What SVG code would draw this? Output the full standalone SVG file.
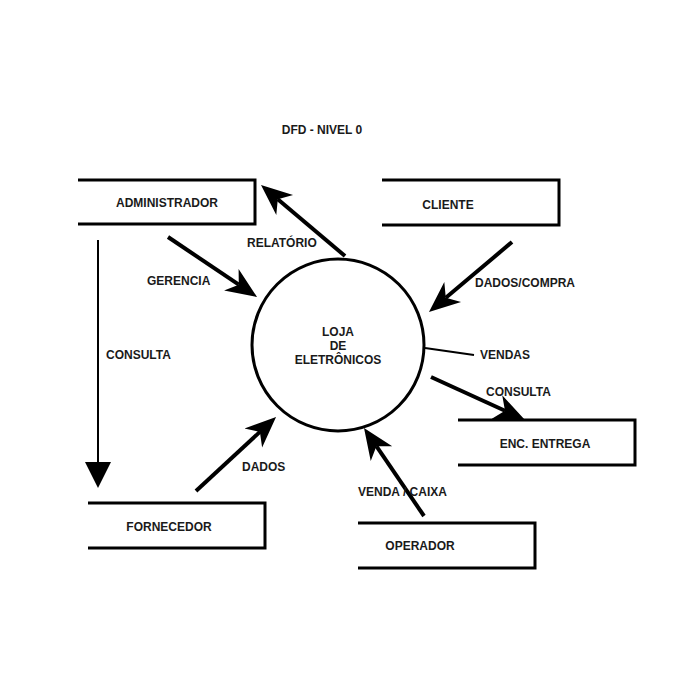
<svg xmlns="http://www.w3.org/2000/svg" width="676" height="678" viewBox="0 0 676 678">
<defs>
<style>
text{font-family:"Liberation Sans",Arial,sans-serif;font-size:12px;font-weight:bold;fill:#1a1a1a}
.box{fill:none;stroke:#000;stroke-width:3}
.flow{stroke:#000;stroke-width:4;fill:none}
.thin{stroke:#000;stroke-width:2;fill:none}
</style>
<marker id="ah" markerUnits="userSpaceOnUse" markerWidth="32" markerHeight="28" viewBox="0 0 32 28" refX="9" refY="14" orient="auto">
<path d="M0,1 L31,14 L0,27 L9,14 Z" fill="#000"/>
</marker>
</defs>
<rect width="676" height="678" fill="#fff"/>
<text x="322" y="134" text-anchor="middle">DFD - NIVEL 0</text>
<g id="administrador"><path class="box" d="M78,180 H255 V224 H78"/><text x="167" y="207" text-anchor="middle">ADMINISTRADOR</text></g>
<g id="cliente"><path class="box" d="M382,180 H559 V225 H382"/><text x="448" y="209" text-anchor="middle">CLIENTE</text></g>
<g id="enc-entrega"><path class="box" d="M458,420 H635 V465 H458"/><text x="545" y="448" text-anchor="middle">ENC. ENTREGA</text></g>
<g id="fornecedor"><path class="box" d="M88,503 H265 V548 H88"/><text x="169" y="531" text-anchor="middle">FORNECEDOR</text></g>
<g id="operador"><path class="box" d="M358,523 H535 V568 H358"/><text x="420" y="550" text-anchor="middle">OPERADOR</text></g>
<g id="loja"><circle cx="338" cy="345" r="86" fill="none" stroke="#000" stroke-width="3"/>
<text x="338" y="336" text-anchor="middle">LOJA</text><text x="338" y="350" text-anchor="middle">DE</text><text x="338" y="364" text-anchor="middle">ELETRÔNICOS</text></g>
<g id="connectors">
<line class="flow" x1="345" y1="256" x2="277.8" y2="199.2" marker-end="url(#ah)"/>
<line class="flow" x1="168" y1="237" x2="238.8" y2="284.7" marker-end="url(#ah)"/>
<line class="flow" x1="512" y1="242" x2="445.8" y2="297.8" marker-end="url(#ah)"/>
<line class="flow" x1="431" y1="377" x2="505" y2="410.8" marker-end="url(#ah)"/>
<line class="flow" x1="196" y1="491" x2="259.9" y2="431.9" marker-end="url(#ah)"/>
<line class="flow" x1="424" y1="516" x2="376.4" y2="446.2" marker-end="url(#ah)"/>
<line class="thin" x1="425" y1="348" x2="474" y2="355"/>
<line class="thin" x1="98" y1="240" x2="98" y2="464"/>
<polygon points="85,462 111,462 98,488" fill="#000"/>
</g>
<text x="247" y="247">RELATÓRIO</text>
<text x="147" y="285">GERENCIA</text>
<text x="475" y="287">DADOS/COMPRA</text>
<text x="106" y="359">CONSULTA</text>
<text x="480" y="359">VENDAS</text>
<text x="486" y="396">CONSULTA</text>
<text x="242" y="471">DADOS</text>
<text x="358" y="496">VENDA / CAIXA</text>
</svg>
